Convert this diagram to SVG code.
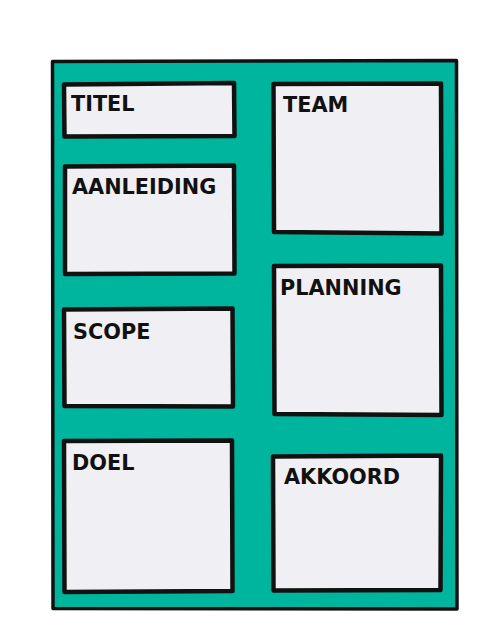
<svg xmlns="http://www.w3.org/2000/svg" width="495" height="636" viewBox="0 0 495 636">
<style>
.board{fill:#00B59D;stroke:#111;stroke-width:3.5;stroke-linejoin:round}
.box{fill:#F0F0F4;stroke:#111;stroke-width:4.5;stroke-linejoin:round;stroke-linecap:round}
.lbl{font-family:"DejaVu Sans",sans-serif;font-weight:700;font-size:20.8px;fill:#111}
</style>
<rect width="495" height="636" fill="#ffffff"/>
<g id="board">
<path class="board" d="M52.5,61.5 L456.5,60.5 L457,609 L53,608.5 Z"/>
</g>
<g id="connectors"></g>
<g id="titel">
<path class="box" d="M64,84.5 L234,83 L234.5,136 L64.5,136.5 Z"/>
<text class="lbl" x="71" y="111">TITEL</text>
</g>
<g id="aanleiding">
<path class="box" d="M65,166.5 L234,165.5 L234.5,273.5 L65,274 Z"/>
<text class="lbl" x="72" y="194">AANLEIDING</text>
</g>
<g id="scope">
<path class="box" d="M64,309.5 L232.5,308.5 L233,406.5 L64.5,406 Z"/>
<text class="lbl" x="73" y="339">SCOPE</text>
</g>
<g id="doel">
<path class="box" d="M64,441 L232,440.5 L232.5,591 L64.5,592 Z"/>
<text class="lbl" x="72" y="470">DOEL</text>
</g>
<g id="team">
<path class="box" d="M273.5,84 L441,83.5 L441.5,233.5 L274,232 Z"/>
<text class="lbl" x="283" y="112">TEAM</text>
</g>
<g id="planning">
<path class="box" d="M274,266 L441,265.5 L441.5,415 L274.5,414 Z"/>
<text class="lbl" x="280" y="295">PLANNING</text>
</g>
<g id="akkoord">
<path class="box" d="M273,456.5 L441,455.5 L440.5,590 L273.5,590.5 Z"/>
<text class="lbl" x="284" y="484">AKKOORD</text>
</g>
</svg>
